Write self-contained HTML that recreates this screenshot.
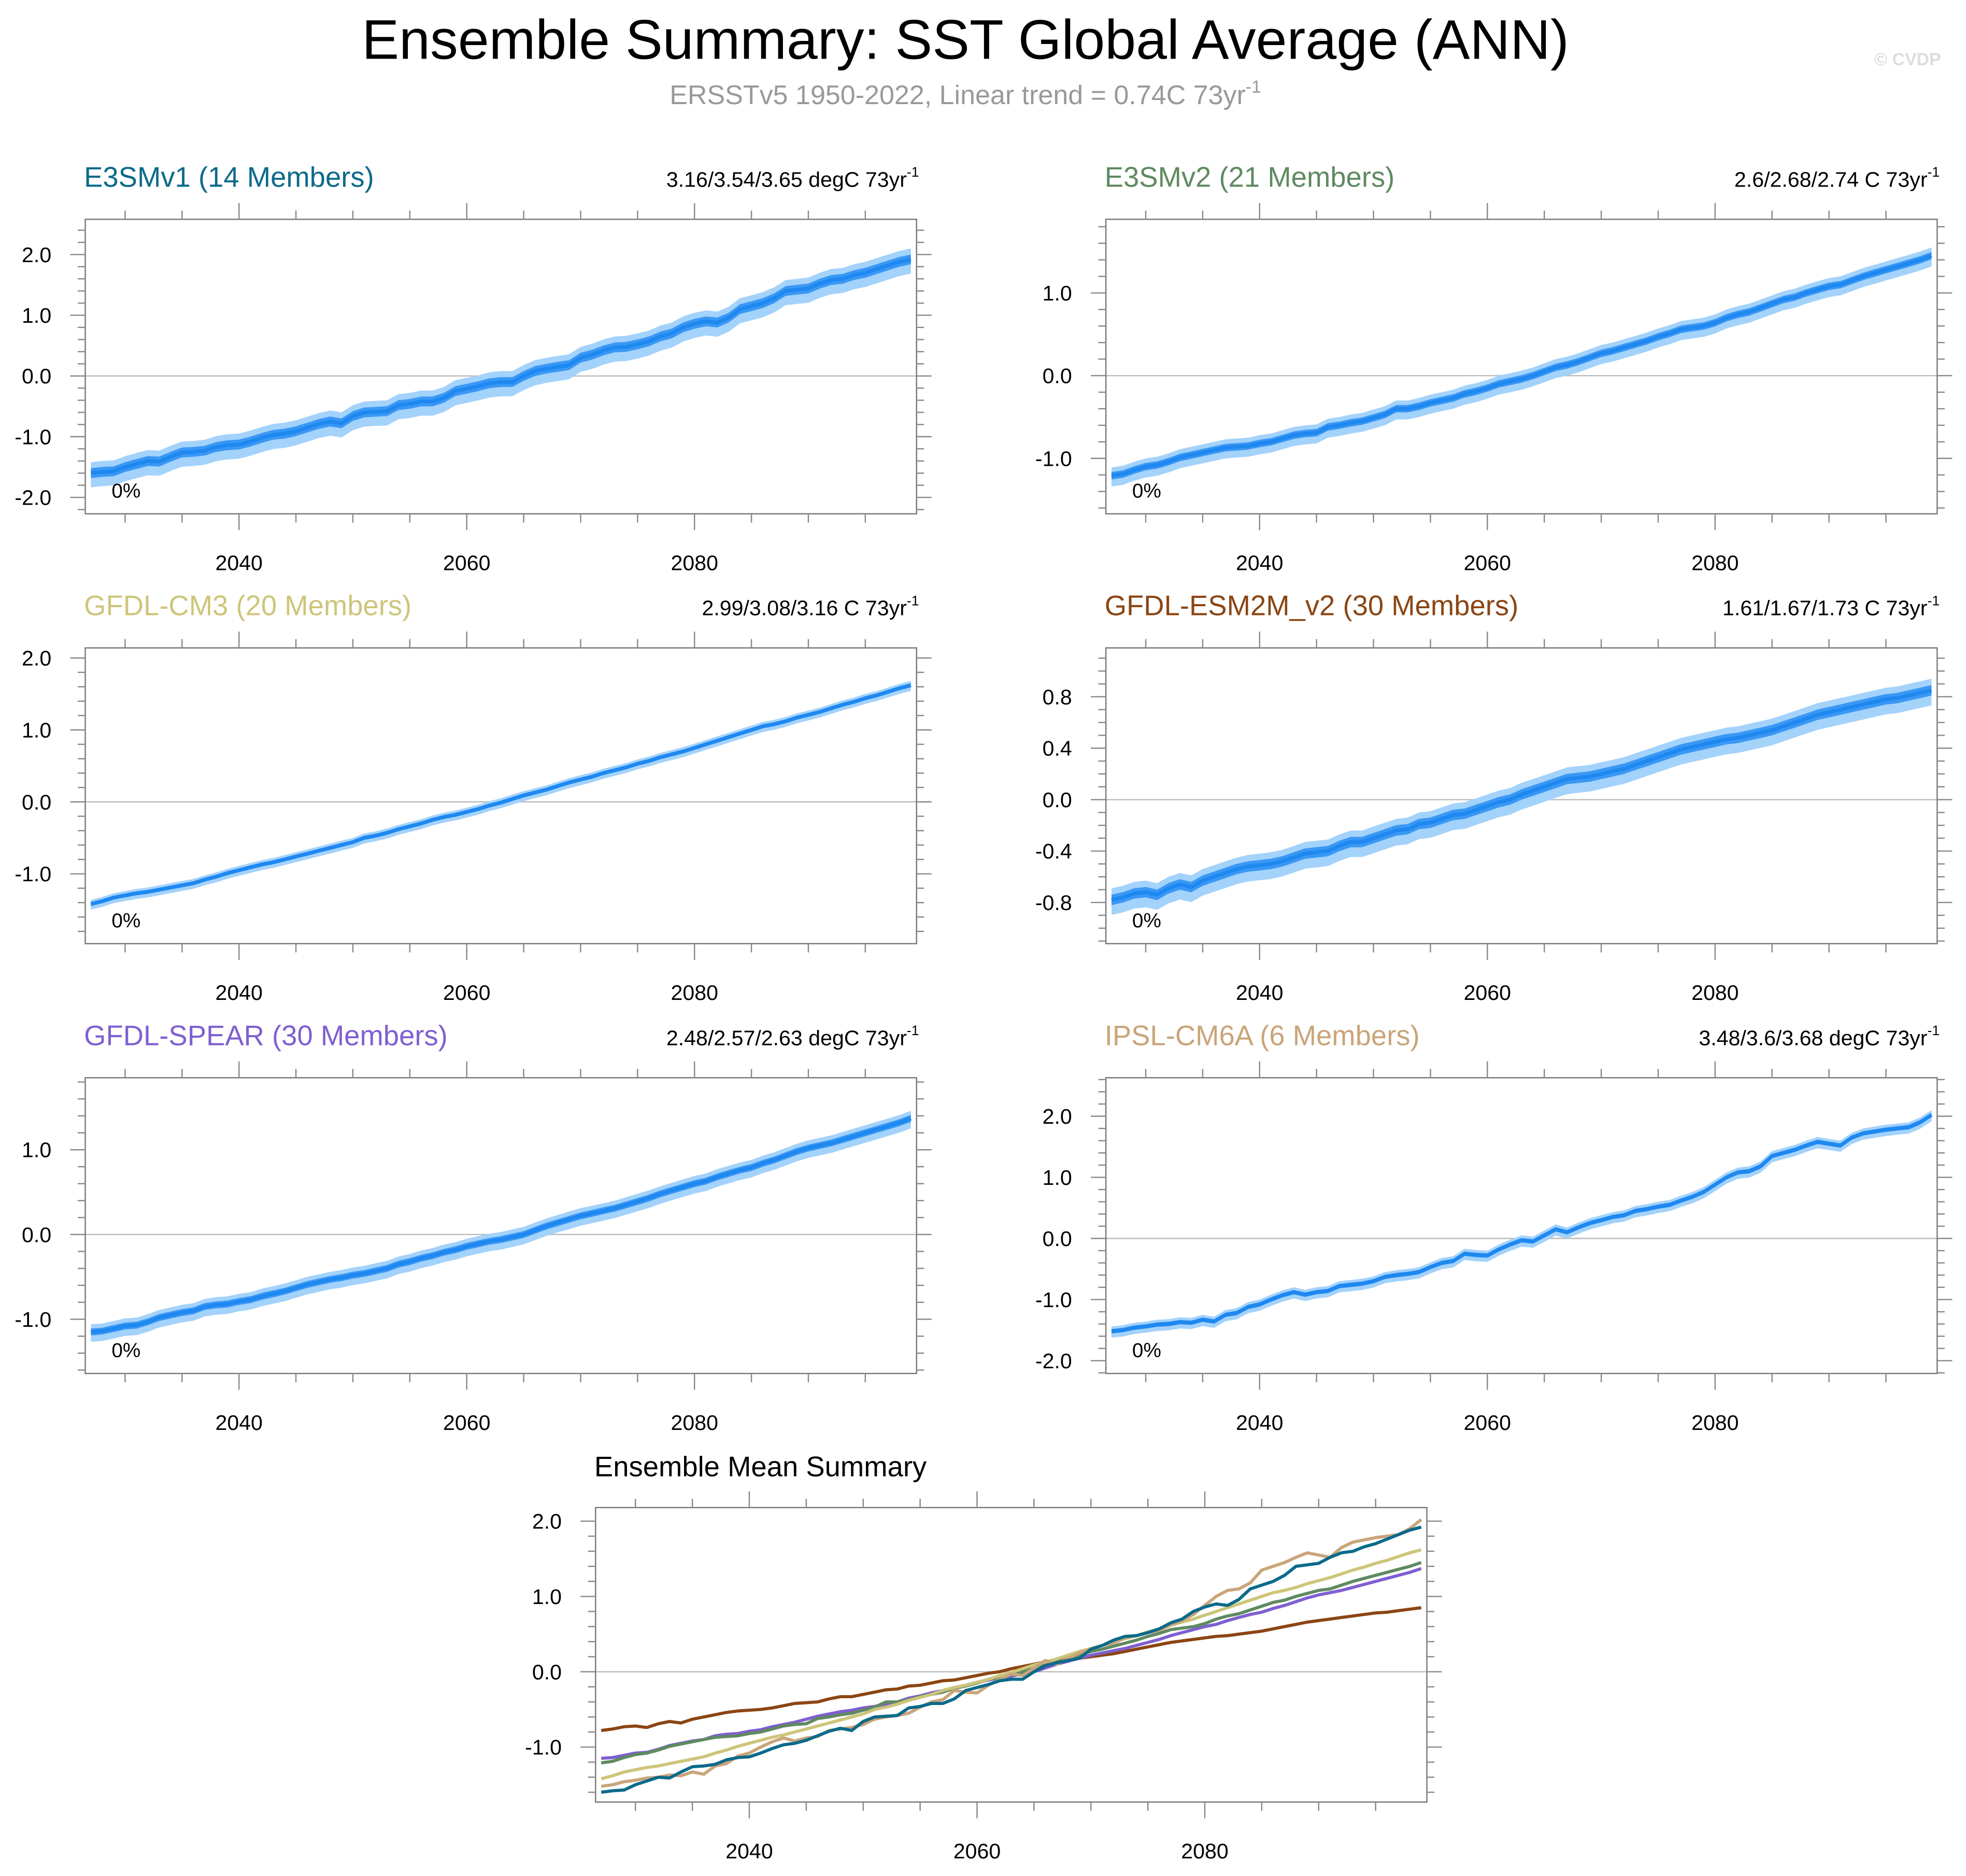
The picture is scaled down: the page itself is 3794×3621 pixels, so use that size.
<!DOCTYPE html>
<html><head><meta charset="utf-8"><style>
html,body{margin:0;padding:0;background:#fff}
svg{display:block}
text{font-family:"Liberation Sans",sans-serif}
</style></head><body>
<svg id="c" width="3794" height="3621" viewBox="0 0 1568 1497" preserveAspectRatio="none" xmlns="http://www.w3.org/2000/svg">
<rect width="1568" height="1497" fill="#fff"/>
<text x="770" y="47" text-anchor="middle" font-size="44.5" fill="#000">Ensemble Summary: SST Global Average (ANN)</text>
<text x="770" y="83" text-anchor="middle" font-size="21.5" fill="#999">ERSSTv5 1950-2022, Linear trend = 0.74C 73yr<tspan dy="-9" font-size="14">-1</tspan></text>
<text x="1548" y="52" text-anchor="end" font-size="14" font-weight="bold" fill="#ddd">© CVDP</text>
</svg>
<script>
const years=[];for(let y=2027;y<=2099;y++)years.push(y);
const names=["E3SMv1 (14 Members)","E3SMv2 (21 Members)","GFDL-CM3 (20 Members)","GFDL-ESM2M_v2 (30 Members)","GFDL-SPEAR (30 Members)","IPSL-CM6A (6 Members)"];
const trendLabels=["3.16/3.54/3.65 degC 73yr","2.6/2.68/2.74 C 73yr","2.99/3.08/3.16 C 73yr","1.61/1.67/1.73 C 73yr","2.48/2.57/2.63 degC 73yr","3.48/3.6/3.68 degC 73yr"];
const m1=[-1.60,-1.58,-1.57,-1.50,-1.45,-1.40,-1.41,-1.33,-1.26,-1.25,-1.23,-1.17,-1.14,-1.13,-1.08,-1.02,-0.97,-0.95,-0.91,-0.85,-0.79,-0.75,-0.78,-0.66,-0.60,-0.59,-0.58,-0.48,-0.46,-0.42,-0.42,-0.36,-0.25,-0.21,-0.17,-0.12,-0.10,-0.10,0.00,0.08,0.12,0.15,0.18,0.30,0.35,0.42,0.47,0.48,0.52,0.57,0.65,0.70,0.80,0.86,0.90,0.88,0.96,1.10,1.15,1.20,1.28,1.40,1.42,1.44,1.52,1.58,1.60,1.66,1.70,1.76,1.82,1.88,1.92];
const m2=[-1.21,-1.19,-1.14,-1.10,-1.08,-1.04,-0.99,-0.96,-0.93,-0.90,-0.87,-0.86,-0.85,-0.82,-0.80,-0.76,-0.72,-0.70,-0.69,-0.62,-0.60,-0.57,-0.55,-0.51,-0.47,-0.40,-0.40,-0.37,-0.33,-0.30,-0.27,-0.22,-0.19,-0.15,-0.10,-0.07,-0.04,0.00,0.05,0.10,0.13,0.17,0.22,0.27,0.30,0.34,0.38,0.42,0.47,0.51,0.56,0.58,0.60,0.64,0.70,0.74,0.77,0.82,0.87,0.92,0.95,1.00,1.04,1.08,1.10,1.15,1.20,1.24,1.28,1.32,1.36,1.40,1.45];
const m3=[-1.42,-1.38,-1.33,-1.30,-1.27,-1.25,-1.22,-1.19,-1.16,-1.13,-1.08,-1.04,-0.99,-0.95,-0.91,-0.87,-0.84,-0.80,-0.76,-0.72,-0.68,-0.64,-0.60,-0.56,-0.50,-0.47,-0.43,-0.38,-0.34,-0.30,-0.25,-0.21,-0.18,-0.14,-0.10,-0.05,-0.01,0.04,0.09,0.13,0.17,0.22,0.27,0.31,0.35,0.40,0.44,0.48,0.53,0.57,0.62,0.66,0.70,0.75,0.80,0.85,0.90,0.95,1.00,1.05,1.08,1.12,1.17,1.21,1.25,1.30,1.35,1.39,1.44,1.48,1.53,1.58,1.62];
const m4=[-0.78,-0.76,-0.73,-0.72,-0.74,-0.69,-0.66,-0.68,-0.63,-0.60,-0.57,-0.54,-0.52,-0.51,-0.50,-0.48,-0.45,-0.42,-0.41,-0.40,-0.36,-0.33,-0.33,-0.30,-0.27,-0.24,-0.23,-0.19,-0.18,-0.15,-0.12,-0.11,-0.08,-0.05,-0.02,0.00,0.04,0.07,0.10,0.13,0.16,0.17,0.18,0.20,0.22,0.24,0.27,0.30,0.33,0.36,0.39,0.41,0.43,0.45,0.47,0.48,0.50,0.52,0.54,0.57,0.60,0.63,0.66,0.68,0.70,0.72,0.74,0.76,0.78,0.79,0.81,0.83,0.85];
const m5=[-1.15,-1.14,-1.11,-1.08,-1.07,-1.03,-0.98,-0.95,-0.92,-0.90,-0.85,-0.83,-0.82,-0.79,-0.77,-0.73,-0.70,-0.67,-0.63,-0.59,-0.56,-0.53,-0.51,-0.48,-0.46,-0.43,-0.40,-0.35,-0.32,-0.28,-0.25,-0.21,-0.18,-0.14,-0.11,-0.08,-0.06,-0.03,0.00,0.05,0.10,0.14,0.18,0.22,0.25,0.28,0.31,0.35,0.39,0.43,0.48,0.52,0.56,0.60,0.63,0.68,0.72,0.76,0.79,0.84,0.88,0.93,0.98,1.02,1.05,1.08,1.12,1.16,1.20,1.24,1.28,1.32,1.37];
const m6=[-1.52,-1.50,-1.46,-1.44,-1.41,-1.40,-1.37,-1.38,-1.33,-1.36,-1.25,-1.22,-1.12,-1.08,-1.00,-0.93,-0.88,-0.92,-0.88,-0.86,-0.78,-0.76,-0.74,-0.70,-0.63,-0.60,-0.58,-0.55,-0.47,-0.40,-0.37,-0.25,-0.27,-0.28,-0.18,-0.10,-0.03,-0.05,0.05,0.15,0.10,0.18,0.25,0.30,0.35,0.38,0.45,0.48,0.52,0.55,0.62,0.68,0.76,0.88,1.00,1.08,1.10,1.18,1.35,1.40,1.45,1.52,1.58,1.55,1.52,1.65,1.72,1.75,1.78,1.80,1.82,1.90,2.02];
const spreads=[0.18,0.10,0.06,0.09,0.09,0.08];
const means=[m1,m2,m3,m4,m5,m6];
const colors=["#0b6a8a","#5f8a60","#cdc57a","#8b4513","#7f5fd0","#c9a57a"];
const xTicks=[2040,2060,2080];

const svg=document.getElementById('c');const NS="http://www.w3.org/2000/svg";
function el(t,a,p){const e=document.createElementNS(NS,t);for(const k in a)e.setAttribute(k,a[k]);(p||svg).appendChild(e);return e;}
const panels=[
 [68,175,731,410,-2.27,2.58,1,0.2,[2,1,0,-1,-2]],
 [882,175,1545,410,-1.67,1.89,1,0.2,[1,0,-1]],
 [68,517,731,753,-1.97,2.14,1,0.2,[2,1,0,-1]],
 [882,517,1545,753,-1.12,1.18,0.4,0.1,[0.8,0.4,0,-0.4,-0.8]],
 [68,860,731,1096,-1.64,1.85,1,0.2,[1,0,-1]],
 [882,860,1545,1096,-2.21,2.63,1,0.2,[2,1,0,-1,-2]]];
const bottom=[475,1203,1138,1438,-1.73,2.18,1,0.2,[2,1,0,-1]];
const X0=2026.5,X1=2099.5;
function axes(P,g,name){
 const [l,t,r,b,y0,y1,maj,mn,labs]=P;
 const xs=v=>l+(v-X0)/(X1-X0)*(r-l), ys=v=>b-(v-y0)/(y1-y0)*(b-t);
 el('line',{x1:l,x2:r,y1:ys(0),y2:ys(0),stroke:'#bbb','stroke-width':1},g);
 el('rect',{x:l,y:t,width:r-l,height:b-t,fill:'none',stroke:'#777','stroke-width':1},g);
 for(let yr=2030;yr<=2095;yr+=5){const M=xTicks.includes(yr),L=M?13:7;const x=xs(yr);
  el('line',{x1:x,x2:x,y1:t,y2:t-L,stroke:'#888','stroke-width':1},g);
  el('line',{x1:x,x2:x,y1:b,y2:b+L,stroke:'#888','stroke-width':1},g);}
 const st=Math.ceil(y0/mn-1e-6),en=Math.floor(y1/mn+1e-6);
 for(let i=st;i<=en;i++){const v=i*mn;const M=Math.abs(v/maj-Math.round(v/maj))<1e-6;const L=M?12:6;const y=ys(v);
  el('line',{x1:l,x2:l-L,y1:y,y2:y,stroke:'#888','stroke-width':1},g);
  el('line',{x1:r,x2:r+L,y1:y,y2:y,stroke:'#888','stroke-width':1},g);}
 labs.forEach(v=>{const tx=el('text',{x:l-27,y:ys(v)+6,'text-anchor':'end','font-size':17},g);tx.textContent=v.toFixed(1);
  
  });
 xTicks.forEach(v=>{const tx=el('text',{x:xs(v),y:b+45,'text-anchor':'middle','font-size':17},g);tx.textContent=v;
  
  });
 return {xs,ys};
}
function pts(arr,xs,ys,off){return arr.map((v,i)=>xs(years[i]).toFixed(1)+','+ys(v+off).toFixed(1));}
panels.forEach((P,k)=>{
 const g=el('g',{});
 
 
 const m=means[k],s=spreads[k];
 const {xs,ys}=axes(P,g,'panel-'+(k+1));
 const up=pts(m,xs,ys,s),dn=pts(m,xs,ys,-s*1.3).reverse();
 const band=el('polygon',{points:up.concat(dn).join(' '),fill:'#a3d2fb'},g);
 
 
 const up2=pts(m,xs,ys,s*0.45),dn2=pts(m,xs,ys,-s*0.45).reverse();
 const band2=el('polygon',{points:up2.concat(dn2).join(' '),fill:'#3a98f5'},g);
 
 
 const ln=el('polyline',{points:pts(m,xs,ys,0).join(' '),fill:'none',stroke:'#1e88f0','stroke-width':3,'stroke-linejoin':'round'},g);
 
 
 const [l,t,r,b]=P;
 const ti=el('text',{x:l-1,y:t-26,'font-size':22.5,fill:colors[k]},g);ti.textContent=names[k];
 
 
 const tr=el('text',{x:r+2,y:t-26,'text-anchor':'end','font-size':17},g);tr.textContent=trendLabels[k];
 const sup=el('tspan',{dy:-8,'font-size':11},tr);sup.textContent='-1';
 
 
 const pc=el('text',{x:l+21,y:b-13,'font-size':16},g);pc.textContent='0%';
 
 
});
(function(){
 const g=el('g',{});
 
 
 const {xs,ys}=axes(bottom,g,'summary');
 const order=[3,4,1,2,5,0];
 order.forEach(k=>{const ln=el('polyline',{points:pts(means[k],xs,ys,0).join(' '),fill:'none',stroke:colors[k],'stroke-width':2.5,'stroke-linejoin':'round'},g);
  
  });
 const ti=el('text',{x:474,y:1178,'font-size':22.5},g);ti.textContent='Ensemble Mean Summary';
 
 
})();
</script>
</body></html>
